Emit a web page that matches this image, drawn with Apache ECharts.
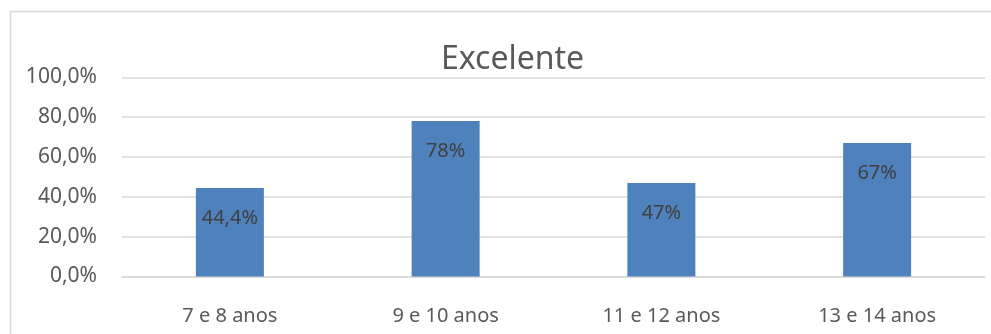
<!DOCTYPE html>
<html>
<head>
<meta charset="utf-8">
<script src="https://cdn.jsdelivr.net/npm/echarts@6/dist/echarts.min.js"></script>
<style>html,body{margin:0;padding:0;background:#fff;}#c{width:991px;height:334px;}</style>
</head>
<body>
<div id="c"></div>
<script>
var titleText = "Excelente";
var categories = ["7 e 8 anos", "9 e 10 anos", "11 e 12 anos", "13 e 14 anos"];
var values = [0.444, 0.78, 0.47, 0.67];
var valueLabels = ["44,4%", "78%", "47%", "67%"];
var yTicks = [0, 0.2, 0.4, 0.6, 0.8, 1.0];

var chart = echarts.init(document.getElementById('c'), null, {renderer: 'canvas'});
var font = "'Noto Sans', sans-serif";
chart.setOption({
  animation: false,
  backgroundColor: '#ffffff',
  graphic: [{
    type: 'rect',
    shape: {x: 10.5, y: 11.5, width: 990, height: 340},
    style: {fill: 'none', stroke: '#D9D9D9', lineWidth: 1.5},
    z: -1
  }],
  title: {
    text: titleText, left: 436, top: 39,
    textStyle: {fontFamily: font, fontSize: 32, fontWeight: 'normal', color: '#595959'}
  },
  grid: {left: 122, right: 6, top: 77.3, bottom: 57.5, containLabel: false},
  xAxis: {
    type: 'category', data: categories,
    axisLine: {show: true, lineStyle: {color: '#D9D9D9', width: 1.5}},
    axisTick: {show: false},
    axisLabel: {fontFamily: font, fontSize: 20, color: '#595959', margin: 30}
  },
  yAxis: {
    type: 'value', min: 0, max: 1, interval: 0.2,
    axisLine: {show: false}, axisTick: {show: false},
    splitLine: {lineStyle: {color: '#D9D9D9', width: 1.5}},
    axisLabel: {
      fontFamily: font, fontSize: 21, color: '#595959', margin: 25,
      formatter: function (v) { return (v * 100).toFixed(1).replace('.', ',') + '%'; }
    }
  },
  series: [{
    type: 'bar', data: values, barWidth: 68,
    itemStyle: {color: '#4F81BD'},
    label: {
      show: true, position: 'insideTop', distance: 20,
      fontFamily: font, fontSize: 20, color: '#404040',
      formatter: function (p) { return valueLabels[p.dataIndex]; }
    }
  }]
});
</script>
</body>
</html>
